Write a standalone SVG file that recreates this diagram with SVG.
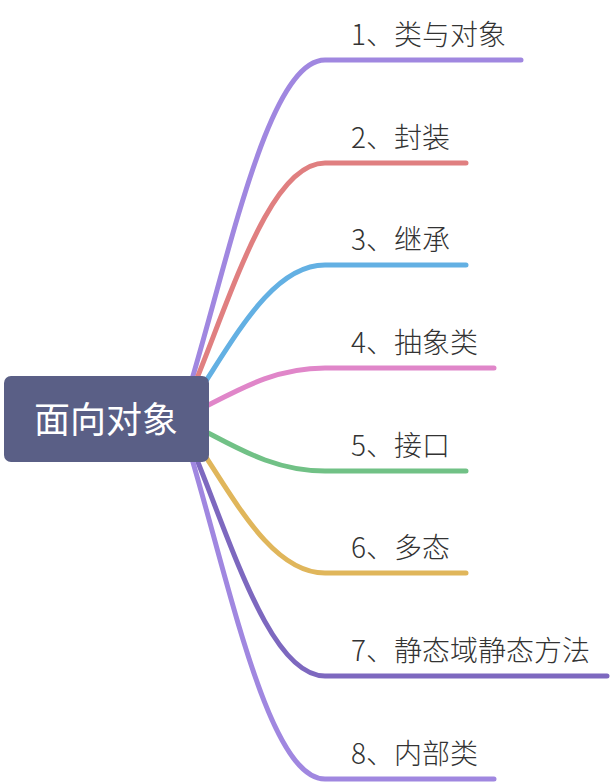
<svg xmlns="http://www.w3.org/2000/svg" width="612" height="784" viewBox="0 0 612 784">
<style>
.c{fill:none;stroke-width:5;stroke-linecap:round;stroke-linejoin:round}
.t{font-family:"Noto Sans CJK SC","Noto Sans",sans-serif;font-size:28px;font-weight:300;fill:#333333}
.rt{font-family:"Noto Sans CJK SC","Noto Sans",sans-serif;font-size:36px;font-weight:400;fill:#ffffff;text-anchor:middle}
</style>
<rect width="612" height="784" fill="#ffffff"/>
<g id="connectors">
<path class="c" stroke="#a087e0" d="M180 419 C225 279 265 60 325 60 L521 60"/>
<path class="c" stroke="#e07f80" d="M180 419 C225 319 265 163 325 163 L466 163"/>
<path class="c" stroke="#63b0e3" d="M180 419 C225 359 265 265 325 265 L466 265"/>
<path class="c" stroke="#e086c9" d="M180 419 C225 399 265 368 325 368 L494 368"/>
<path class="c" stroke="#71c186" d="M180 419 C225 439 265 471 325 471 L466 471"/>
<path class="c" stroke="#e0b65b" d="M180 419 C225 479 265 573 325 573 L466 573"/>
<path class="c" stroke="#7d68bf" d="M180 419 C225 519 265 676 325 676 L607 676"/>
<path class="c" stroke="#a087e0" d="M180 419 C225 560 265 779 325 779 L494 779"/>
</g>
<g id="root">
<rect x="4" y="376" width="205" height="86" rx="7" fill="#5a5f86"/>
<text class="rt" x="106" y="433">面向对象</text>
</g>
<g id="n1"><text class="t" x="351" y="45">1、类与对象</text></g>
<g id="n2"><text class="t" x="351" y="148">2、封装</text></g>
<g id="n3"><text class="t" x="351" y="250">3、继承</text></g>
<g id="n4"><text class="t" x="351" y="353">4、抽象类</text></g>
<g id="n5"><text class="t" x="351" y="456">5、接口</text></g>
<g id="n6"><text class="t" x="351" y="558">6、多态</text></g>
<g id="n7"><text class="t" x="351" y="661">7、静态域静态方法</text></g>
<g id="n8"><text class="t" x="351" y="764">8、内部类</text></g>
</svg>
